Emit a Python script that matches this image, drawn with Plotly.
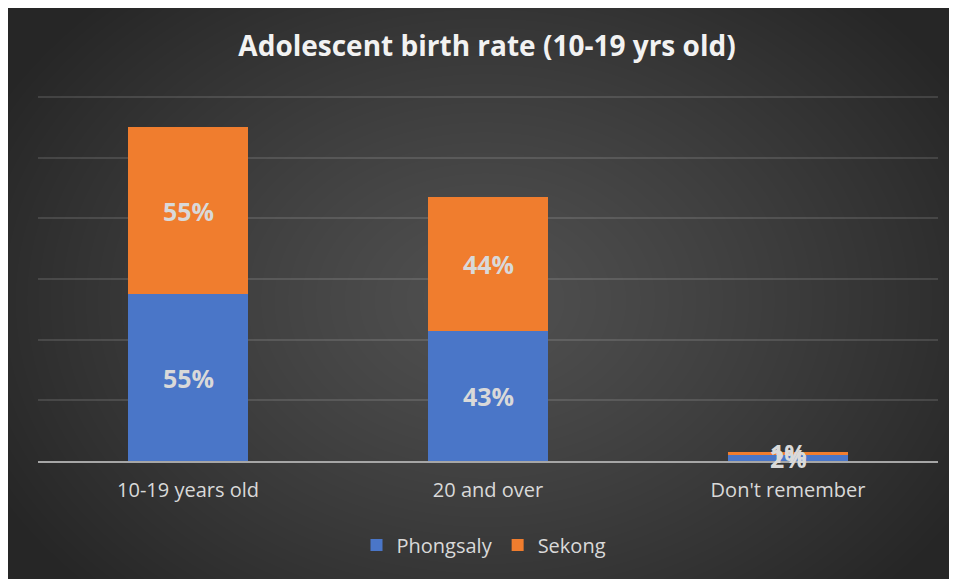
import numpy as np
import zlib, struct, base64
import plotly.graph_objects as go

categories = ["10-19 years old", "20 and over", "Don't remember"]
phongsaly = [55, 43, 2]
sekong = [55, 44, 1]
series_names = ["Phongsaly", "Sekong"]
title_text = "Adolescent birth rate (10-19 yrs old)"

W, H = 965, 579
YMAX = 121
ML, MR, MT, MB = 30, 35, 86, 126
PW, PH = W - ML - MR, H - MT - MB

# radial gradient background as PNG
yy, xx = np.mgrid[0:H, 0:W]
cx, cy = 477, 292
d = np.sqrt(((xx - cx) / 560.0) ** 2 + ((yy - cy) / 420.0) ** 2)
v = 80 - (80 - 38) * np.clip(d, 0, 1) ** 1.2
img = np.stack([v, v, v], axis=-1).astype(np.uint8)
raw = b"".join(b"\x00" + img[r].tobytes() for r in range(H))

def chunk(t, data):
    c = struct.pack(">I", len(data)) + t + data
    return c + struct.pack(">I", zlib.crc32(t + data) & 0xffffffff)

png = b"\x89PNG\r\n\x1a\n" + chunk(b"IHDR", struct.pack(">IIBBBBB", W, H, 8, 2, 0, 0, 0)) \
    + chunk(b"IDAT", zlib.compress(raw, 9)) + chunk(b"IEND", b"")
uri = "data:image/png;base64," + base64.b64encode(png).decode()

label_font = dict(family="Open Sans", size=25, color="#d9d9d9")

fig = go.Figure()
fig.add_trace(go.Bar(
    x=categories, y=phongsaly, name=series_names[0],
    marker=dict(color="#4a76c8", line=dict(width=0)), hoverinfo="skip",
))
fig.add_trace(go.Bar(
    x=categories, y=sekong, name=series_names[1],
    marker=dict(color="#f07d2e", line=dict(width=0)), hoverinfo="skip",
))

# data labels (drawn above all bars, Sekong first so Phongsaly labels sit on top)
annotations = []
for cat, p, s in zip(categories, phongsaly, sekong):
    annotations.append(dict(x=cat, y=p + s / 2.0, text="<b>%d%%</b>" % s,
                            showarrow=False, font=label_font, xref="x", yref="y"))
for cat, p in zip(categories, phongsaly):
    annotations.append(dict(x=cat, y=p / 2.0, text="<b>%d%%</b>" % p,
                            showarrow=False, font=label_font, xref="x", yref="y"))

fig.update_layout(
    width=W, height=H,
    margin=dict(l=ML, r=MR, t=MT, b=MB, pad=0),
    paper_bgcolor="#2e2e2e",
    plot_bgcolor="rgba(0,0,0,0)",
    barmode="stack", bargap=0.597,
    annotations=annotations,
    title=dict(text="<b>" + title_text + "</b>", x=479.0 / W, xanchor="center",
               y=1 - 38.0 / H, yanchor="middle",
               font=dict(family="Open Sans", size=28, color="#f2f2f2")),
    images=[dict(source=uri, xref="paper", yref="paper",
                 x=-ML / PW, y=1 + MT / PH, sizex=W / PW, sizey=H / PH,
                 xanchor="left", yanchor="top", sizing="stretch", layer="below")],
    xaxis=dict(showline=True, linecolor="#a6a6a6", linewidth=2, ticks="",
               tickfont=dict(family="Open Sans", size=20, color="#d9d9d9"),
               ticklabelstandoff=10,
               showgrid=False, fixedrange=True),
    yaxis=dict(range=[0, YMAX], dtick=20, showticklabels=False, showgrid=True,
               gridcolor="rgba(255,255,255,0.12)", gridwidth=1.5, zeroline=False,
               fixedrange=True),
    legend=dict(orientation="h", x=0.5 - 4.0 / PW, xanchor="center",
                y=-84.0 / PH, yanchor="middle",
                font=dict(family="Open Sans", size=20, color="#d9d9d9"),
                bgcolor="rgba(0,0,0,0)", traceorder="normal"),
    showlegend=True,
)

fig.write_html("out.html")
